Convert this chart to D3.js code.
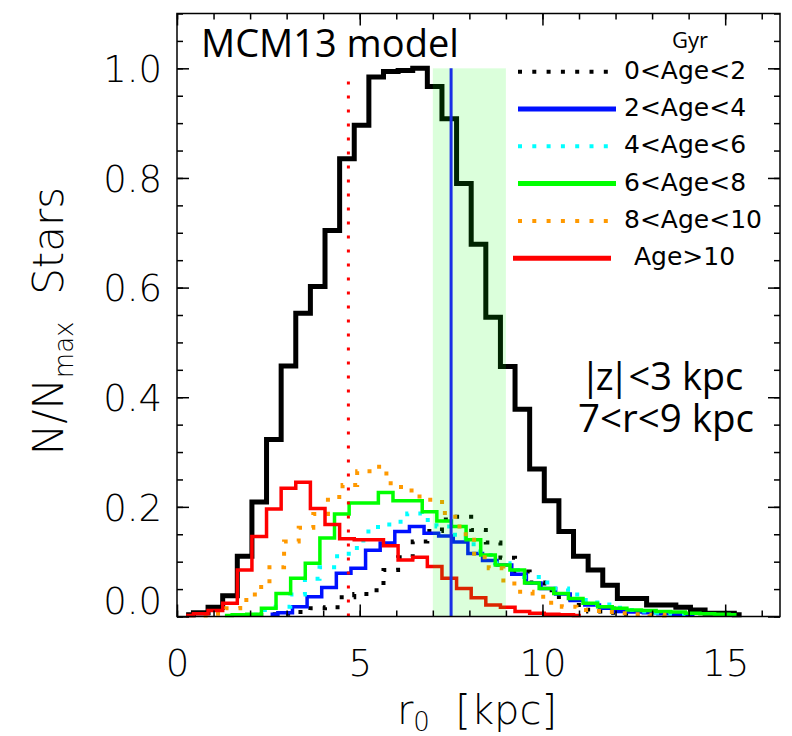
<!DOCTYPE html>
<html>
<head>
<meta charset="utf-8">
<script src="https://cdn.jsdelivr.net/npm/d3@7/dist/d3.min.js"></script>
<style>
  body { margin: 0; background: #fff; }
  svg { display: block; }
  .hershey { font-family: "DejaVu Sans", sans-serif; font-weight: 200; }
</style>
</head>
<body>
<svg id="chart" width="792" height="736"></svg>
<script>
// histogram bin width in kpc (all age groups)
const binWidth = 0.4;

// first bin centre (kpc) and N/Nmax per bin for each histogram
const totalStart = 0.25;
const totalValues = [0.003, 0.007, 0.017, 0.038, 0.110, 0.209, 0.323, 0.457, 0.553, 0.602,
  0.704, 0.835, 0.896, 0.984, 0.994, 0.996, 1.000, 0.967, 0.908, 0.790,
  0.679, 0.546, 0.456, 0.378, 0.269, 0.211, 0.155, 0.110, 0.085, 0.057,
  0.033, 0.033, 0.021, 0.021, 0.017, 0.012, 0.006, 0.006, 0.003];

const age0to2Start = 2.25;
const age0to2 = [0.003, 0.004, 0.005, 0.008, 0.015, 0.017, 0.035, 0.041, 0.048, 0.085,
  0.108, 0.137, 0.156, 0.177, 0.182, 0.158, 0.135, 0.107, 0.082, 0.062,
  0.048, 0.031, 0.021, 0.009, 0.007, 0.005, 0.003];

const age2to4Start = 2.56;
const age2to4 = [0.004, 0.007, 0.018, 0.036, 0.053, 0.079, 0.088, 0.121, 0.134, 0.155,
  0.164, 0.152, 0.147, 0.136, 0.115, 0.102, 0.094, 0.077, 0.061, 0.051,
  0.041, 0.029, 0.021, 0.015, 0.009, 0.008, 0.007, 0.005, 0.004, 0.003];

const age4to6Start = 2.1;
const age4to6 = [0.003, 0.012, 0.018, 0.040, 0.069, 0.090, 0.110, 0.125, 0.155, 0.168,
  0.173, 0.188, 0.176, 0.164, 0.149, 0.132, 0.112, 0.097, 0.085, 0.072,
  0.062, 0.051, 0.040, 0.030, 0.022, 0.016, 0.012, 0.009, 0.007, 0.005, 0.004];

const age6to8Start = 1.31;
const age6to8 = [0.002, 0.003, 0.004, 0.015, 0.042, 0.070, 0.097, 0.143, 0.187, 0.207,
  0.207, 0.226, 0.211, 0.211, 0.191, 0.174, 0.164, 0.140, 0.112, 0.094,
  0.085, 0.061, 0.051, 0.042, 0.033, 0.024, 0.018, 0.015, 0.012, 0.011,
  0.009, 0.008, 0.006, 0.005, 0.004, 0.003];

const age8to10Start = 0.73;
const age8to10 = [0.002, 0.005, 0.015, 0.030, 0.054, 0.090, 0.137, 0.162, 0.187, 0.218,
  0.240, 0.265, 0.273, 0.243, 0.230, 0.219, 0.209, 0.182, 0.150, 0.108,
  0.088, 0.060, 0.045, 0.036, 0.025, 0.018, 0.012, 0.010, 0.008, 0.006,
  0.004, 0.003, 0.002];

const ageOver10Start = 0.25;
const ageOver10 = [0.002, 0.005, 0.011, 0.024, 0.085, 0.146, 0.196, 0.234, 0.245, 0.197,
  0.168, 0.142, 0.140, 0.140, 0.129, 0.103, 0.108, 0.091, 0.070, 0.051,
  0.034, 0.021, 0.017, 0.009, 0.006, 0.004, 0.003, 0.002];

const seriesLabels = ['0<Age<2', '2<Age<4', '4<Age<6', '6<Age<8', '8<Age<10', 'Age>10'];

// reference markers (kpc)
const bandRange = [7, 9];
const blueMarker = 7.5;
const redMarker = 4.69;

const xTickValues = [0, 5, 10, 15];
const yTickValues = [0, 0.2, 0.4, 0.6, 0.8, 1.0];

// ---- drawing ----
const svg = d3.select('#chart');

const x = d3.scaleLinear().domain([0, 16.5]).range([177, 780]);
const y = d3.scaleLinear().domain([0, 1.1]).range([616.5, 13.5]);

const toPoints = (start, vals) => vals.map((v, i) => ({ r: start + i * binWidth, v }));

// IDL psym=10 style: steps change halfway between bin centres
const line = d3.line()
  .x(d => x(d.r))
  .y(d => y(d.v))
  .curve(d3.curveStep);

const series = [
  { pts: toPoints(age0to2Start, age0to2), color: '#000000', dotted: true },
  { pts: toPoints(age2to4Start, age2to4), color: '#0010ff', dotted: false },
  { pts: toPoints(age4to6Start, age4to6), color: '#00ffff', dotted: true },
  { pts: toPoints(age6to8Start, age6to8), color: '#00ff00', dotted: false },
  { pts: toPoints(age8to10Start, age8to10), color: '#ff9900', dotted: true },
  { pts: toPoints(ageOver10Start, ageOver10), color: '#ff0000', dotted: false }
];

// total histogram
svg.append('path')
  .datum(toPoints(totalStart, totalValues))
  .attr('fill', 'none')
  .attr('stroke', '#000')
  .attr('stroke-width', 5)
  .attr('stroke-linejoin', 'miter')
  .attr('d', line);

series.forEach(s => {
  svg.append('path')
    .datum(s.pts)
    .attr('fill', 'none')
    .attr('stroke', s.color)
    .attr('stroke-width', s.dotted ? 4 : 3.5)
    .attr('stroke-dasharray', s.dotted ? '4 10' : null)
    .attr('d', line);
});

// shaded 7-9 kpc band (drawn on top, translucent)
svg.append('rect')
  .attr('x', x(bandRange[0]))
  .attr('y', y(1.0))
  .attr('width', x(bandRange[1]) - x(bandRange[0]))
  .attr('height', y(0) - y(1.0))
  .attr('fill', '#00ff00')
  .attr('fill-opacity', 0.14);

svg.append('line')
  .attr('x1', x(blueMarker)).attr('x2', x(blueMarker))
  .attr('y1', y(0)).attr('y2', y(1.0))
  .attr('stroke', '#1a2ee6')
  .attr('stroke-width', 3);

svg.append('line')
  .attr('x1', x(redMarker)).attr('x2', x(redMarker))
  .attr('y1', y(0)).attr('y2', y(0.985))
  .attr('stroke', '#ff0000')
  .attr('stroke-width', 3)
  .attr('stroke-dasharray', '3 11');

// ---- axes ----
const xMinor = d3.range(0, 17, 1);
const yMinor = d3.range(0, 1.1001, 0.05);

function ticks(axis, tv, size) {
  return axis.tickValues(tv).tickSizeInner(size).tickSizeOuter(0);
}

svg.append('g').attr('transform', `translate(0,${y(0)})`)
  .call(ticks(d3.axisBottom(x), xMinor, -6).tickFormat(''));
const gBottom = svg.append('g').attr('transform', `translate(0,${y(0)})`)
  .call(ticks(d3.axisBottom(x), xTickValues, -12).tickFormat(d3.format('d')));
gBottom.selectAll('text')
  .attr('class', 'hershey')
  .attr('y', 59.5)
  .attr('dy', 0)
  .style('font-size', '37px');

svg.append('g').attr('transform', `translate(0,${y(1.1)})`)
  .call(ticks(d3.axisTop(x), xMinor, -6).tickFormat(''));
svg.append('g').attr('transform', `translate(0,${y(1.1)})`)
  .call(ticks(d3.axisTop(x), xTickValues, -12).tickFormat(''));

svg.append('g').attr('transform', `translate(${x(0)},0)`)
  .call(ticks(d3.axisLeft(y), yMinor, -6).tickFormat(''));
const gLeft = svg.append('g').attr('transform', `translate(${x(0)},0)`)
  .call(ticks(d3.axisLeft(y), yTickValues, -12).tickFormat(d3.format('.1f')).tickPadding(15));
gLeft.selectAll('text')
  .attr('class', 'hershey')
  .attr('dy', '0.36em')
  .style('font-size', '37px');
// bottom label sits a little above the 0 tick
gLeft.selectAll('text').filter(d => d === 0).attr('y', -16);

svg.append('g').attr('transform', `translate(${x(16.5)},0)`)
  .call(ticks(d3.axisRight(y), yMinor, -6).tickFormat(''));
svg.append('g').attr('transform', `translate(${x(16.5)},0)`)
  .call(ticks(d3.axisRight(y), yTickValues, -12).tickFormat(''));

svg.selectAll('.domain').remove();
svg.selectAll('.tick line').attr('stroke', '#000').attr('stroke-width', 1.5);
svg.selectAll('.tick text').attr('fill', '#000');

svg.append('rect')
  .attr('x', x(0)).attr('y', y(1.1))
  .attr('width', x(16.5) - x(0)).attr('height', y(0) - y(1.1))
  .attr('fill', 'none')
  .attr('stroke', '#000')
  .attr('stroke-width', 1.5);

// axis titles
const yTitle = svg.append('text')
  .attr('class', 'hershey')
  .attr('transform', 'translate(63,321) rotate(-90)')
  .attr('text-anchor', 'middle')
  .style('font-size', '42px');
yTitle.append('tspan').text('N/N');
yTitle.append('tspan').attr('dy', 10).style('font-size', '26px').text('max');
yTitle.append('tspan').attr('dy', -10).text('\u00a0\u00a0Stars');

const xTitle = svg.append('text')
  .attr('class', 'hershey')
  .attr('x', 477).attr('y', 724)
  .attr('text-anchor', 'middle')
  .style('font-size', '40px');
xTitle.append('tspan').text('r');
xTitle.append('tspan').attr('dy', 7).style('font-size', '26px').text('0');
xTitle.append('tspan').attr('dy', -7).text('\u00a0\u00a0[kpc]');

// title and annotations
svg.append('text')
  .attr('x', 201).attr('y', 57)
  .style('font-family', '"Open Sans", sans-serif')
  .style('font-size', '38px')
  .text('MCM13 model');

const zNote = svg.append('text')
  .attr('x', 580).attr('y', 390)
  .style('font-family', '"Open Sans", sans-serif')
  .style('font-size', '38px');
zNote.append('tspan').style('letter-spacing', '-5px').text('|z|');
zNote.append('tspan').attr('dx', 4).text('<3 kpc');

svg.append('text')
  .attr('x', 578).attr('y', 432)
  .style('font-family', '"Open Sans", sans-serif')
  .style('font-size', '38.5px')
  .text('7<r<9 kpc');

// legend
const legend = svg.append('g');
legend.append('text')
  .attr('x', 672).attr('y', 48)
  .style('font-family', '"Open Sans", sans-serif')
  .style('font-size', '22px')
  .text('Gyr');

seriesLabels.forEach((label, i) => {
  const s = series[i];
  const ly = 71.7 + i * 37.3;
  const shift = i === seriesLabels.length - 1 ? -5 : 0;
  legend.append('line')
    .attr('x1', 518 + shift).attr('x2', 616 + shift)
    .attr('y1', ly).attr('y2', ly)
    .attr('stroke', s.color)
    .attr('stroke-width', s.dotted ? 4 : 5)
    .attr('stroke-dasharray', s.dotted ? '4 10.3' : null);
  legend.append('text')
    .attr('x', 624 + (shift ? 10 : 0)).attr('y', ly + 7)
    .style('font-family', '"DejaVu Sans", sans-serif')
    .style('font-size', '25px')
    .text(label);
});
</script>
</body>
</html>
